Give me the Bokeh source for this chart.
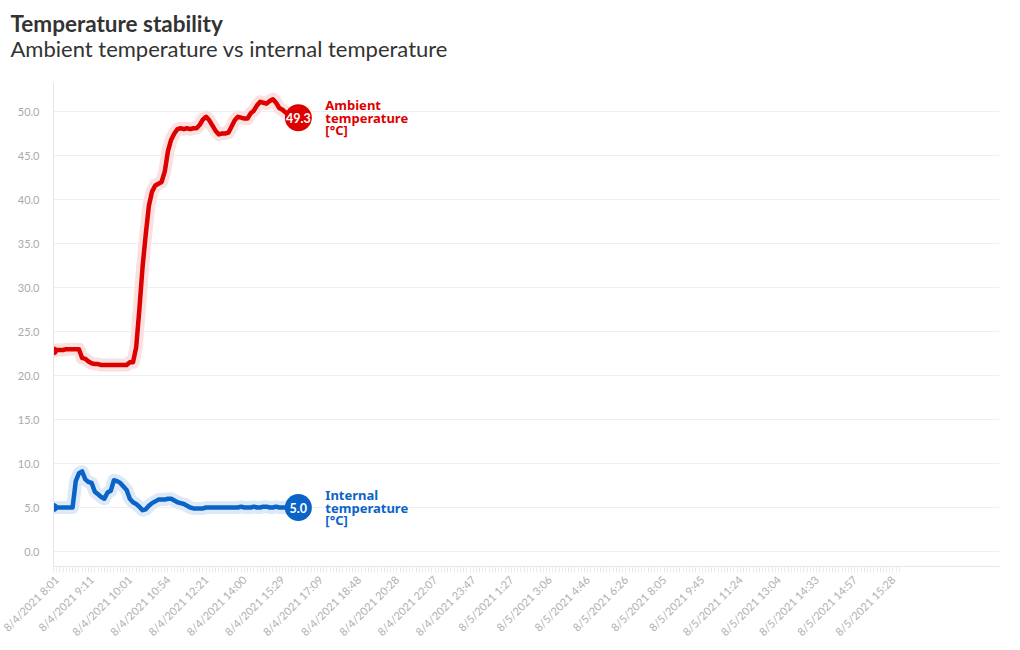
from bokeh.plotting import figure
from bokeh.layouts import column, row
from bokeh.models import Range1d, FixedTicker, Label, ColumnDataSource, NumeralTickFormatter
from bokeh.core.properties import value
from bokeh.embed import file_html
from bokeh.resources import INLINE
import math

# ---------------- data ----------------
title_text = "Temperature stability"
subtitle_text = "Ambient temperature vs internal temperature"

tick_labels = [
    "8/4/2021 8:01", "8/4/2021 9:11", "8/4/2021 10:01", "8/4/2021 10:54",
    "8/4/2021 12:21", "8/4/2021 14:00", "8/4/2021 15:29", "8/4/2021 17:09",
    "8/4/2021 18:48", "8/4/2021 20:28", "8/4/2021 22:07", "8/4/2021 23:47",
    "8/5/2021 1:27", "8/5/2021 3:06", "8/5/2021 4:46", "8/5/2021 6:26",
    "8/5/2021 8:05", "8/5/2021 9:45", "8/5/2021 11:24", "8/5/2021 13:04",
    "8/5/2021 14:33", "8/5/2021 14:57", "8/5/2021 15:28",
]
samples_per_label = 12
n_categories = 267

ambient = [
    22.8, 22.9, 22.9, 22.9, 23.0, 23.0, 23.0, 23.0, 23.0, 22.0,
    21.9, 21.6, 21.4, 21.3, 21.3, 21.2, 21.2, 21.2, 21.2, 21.2,
    21.2, 21.2, 21.2, 21.2, 21.5, 21.5, 23.2, 27.5, 32.3, 36.0,
    39.3, 40.9, 41.6, 41.8, 42.0, 43.2, 45.5, 46.8, 47.5, 48.0,
    48.1, 48.0, 48.1, 48.0, 48.1, 48.1, 48.5, 49.1, 49.4, 49.0,
    48.4, 47.8, 47.4, 47.5, 47.5, 47.6, 48.3, 49.0, 49.4, 49.3,
    49.2, 49.2, 49.8, 50.1, 50.7, 51.1, 51.0, 50.9, 51.2, 51.4,
    51.0, 50.4, 50.2, 49.9, 49.7, 49.5, 49.4, 49.3,
]
internal = [
    5.0, 5.0, 5.0, 5.0, 5.0, 5.0, 5.0, 8.0, 8.9, 9.1,
    8.2, 7.9, 7.8, 6.8, 6.5, 6.2, 6.0, 6.7, 6.9, 8.1,
    8.0, 7.8, 7.4, 7.0, 6.0, 5.6, 5.4, 5.1, 4.7, 4.8,
    5.2, 5.5, 5.7, 5.9, 5.9, 5.9, 6.0, 6.0, 5.8, 5.6,
    5.5, 5.4, 5.2, 5.0, 4.9, 4.9, 4.9, 4.9, 5.0, 5.0,
    5.0, 5.0, 5.0, 5.0, 5.0, 5.0, 5.0, 5.0, 5.0, 5.1,
    5.0, 5.0, 5.0, 5.1, 5.0, 5.0, 5.1, 5.1, 5.0, 5.0,
    5.1, 5.0, 5.0, 5.0, 5.1, 5.0, 5.0, 5.0,
]
series_names = ["Ambient\ntemperature\n[°C]", "Internal\ntemperature\n[°C]"]
series_colors = ["#dc0000", "#0a64c8"]
halo_colors = ["#fbe0e0", "#dde9f7"]

y_ticks = [0, 5, 10, 15, 20, 25, 30, 35, 40, 45, 50]

# ---------------- header (title + subtitle) ----------------
W = 53 + 946 + 12
HH = 70
hdr = figure(width=W, height=HH, x_range=Range1d(0, W), y_range=Range1d(HH, 0),
             output_backend="svg", toolbar_location=None,
             x_axis_location=None, y_axis_location=None,
             min_border=0, min_border_left=0, min_border_right=0,
             min_border_top=0, min_border_bottom=0)
hdr.outline_line_color = None
hdr.xgrid.visible = False
hdr.ygrid.visible = False
hdr.add_layout(Label(x=10, y=23, text=title_text, text_font="Lato", text_font_size="22.5px",
                     text_font_style="bold", text_color="#333333",
                     text_baseline="alphabetic", text_align="left"))
hdr.add_layout(Label(x=10, y=48, text=subtitle_text, text_font="Lato", text_font_size="22px",
                     text_font_style="normal", text_color="#333333",
                     text_baseline="alphabetic", text_align="left"))

# ---------------- main chart ----------------
idx = list(range(len(ambient)))

p = figure(
    frame_width=946, frame_height=484,
    x_range=Range1d(0, 297.5), y_range=Range1d(-1.7, 53.3),
    output_backend="svg", toolbar_location=None,
    min_border_left=53, min_border_right=12, min_border_top=12, min_border_bottom=66,
)
p.outline_line_color = None
p.background_fill_color = "white"
p.border_fill_color = "white"

p.yaxis.ticker = FixedTicker(ticks=y_ticks)
p.yaxis.formatter = NumeralTickFormatter(format="0.0")
p.yaxis.major_label_text_font = "Lato"
p.yaxis.major_label_text_font_size = "11px"
p.yaxis.major_label_text_color = "#aaaaaa"
p.yaxis.axis_line_color = "#e6e6e6"
p.yaxis.major_tick_line_color = None
p.yaxis.minor_tick_line_color = None
p.yaxis.major_label_standoff = 8

major = [i * samples_per_label for i in range(len(tick_labels))]
p.xaxis.ticker = FixedTicker(ticks=major, minor_ticks=list(range(n_categories)))
p.xaxis.major_label_overrides = {m: lab for m, lab in zip(major, tick_labels)}
p.xaxis.major_label_orientation = math.pi / 4
p.xaxis.major_label_text_font = "Lato"
p.xaxis.major_label_text_font_size = "11px"
p.xaxis.major_label_text_color = "#b0b0b0"
p.xaxis.axis_line_color = "#e6e6e6"
p.xaxis.major_tick_line_color = "#e6e6e6"
p.xaxis.minor_tick_line_color = "#ececec"
p.xaxis.major_tick_in = 0
p.xaxis.major_tick_out = 6
p.xaxis.minor_tick_in = 0
p.xaxis.minor_tick_out = 6

p.xgrid.grid_line_color = None
p.ygrid.grid_line_color = "#efefef"
p.ygrid.grid_line_width = 1

for vals, name, col, halo in zip([ambient, internal], series_names, series_colors, halo_colors):
    src = ColumnDataSource(dict(x=idx, y=vals))
    p.line("x", "y", source=src, line_color=halo, line_width=13, line_join="round", line_cap="round")
    p.line("x", "y", source=src, line_color=col, line_width=4.5, line_join="round", line_cap="round")
    p.scatter([idx[0]], [vals[0]], size=9, fill_color=col, line_color=None)
    p.scatter([idx[-1]], [vals[-1]], size=27, fill_color=col, line_color=None)
    p.text([idx[-1]], [vals[-1]], text=["%.1f" % vals[-1]], text_align="center",
           text_baseline="middle", text_color="white", text_font=value("Lato"),
           text_font_size="12.5px", text_font_style="bold")
    p.text([idx[-1]], [vals[-1]], text=[name], x_offset=27, text_align="left",
           text_baseline="middle", text_color=col, text_font=value("Noto Sans"),
           text_font_size="13px", text_font_style="bold", text_line_height=0.68)

layout = column(row(hdr), p, spacing=0)
open("out.html", "w").write(file_html(layout, INLINE))
